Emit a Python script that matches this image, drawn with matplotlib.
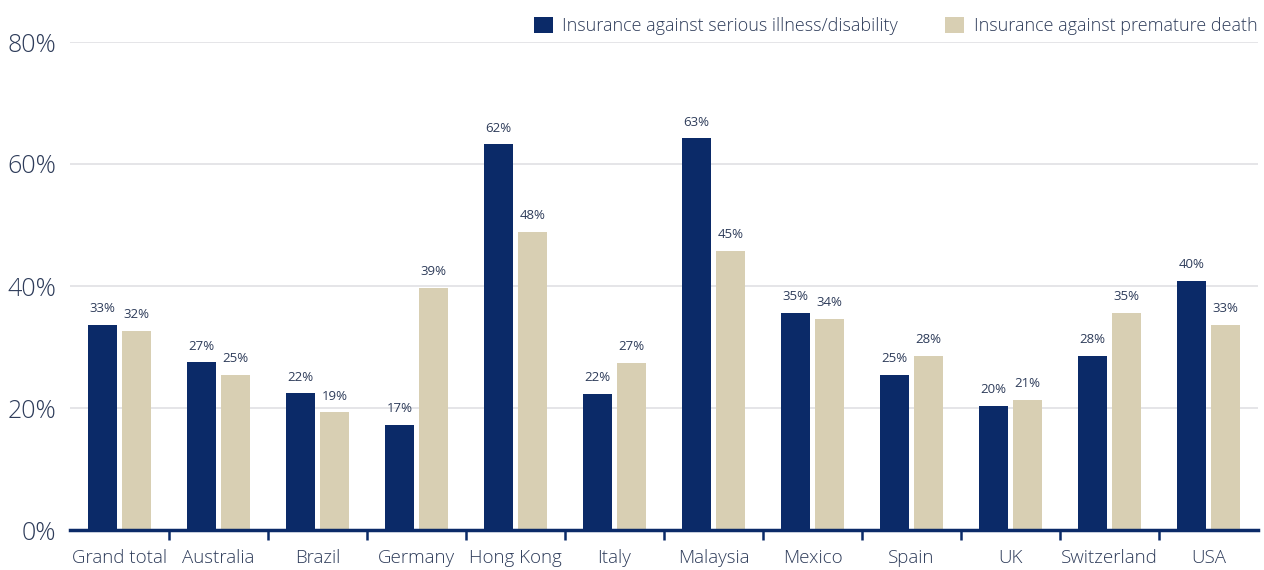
import matplotlib
matplotlib.use("Agg")
import matplotlib.pyplot as plt
from matplotlib.patches import Patch
import numpy as np

categories = ["Grand total", "Australia", "Brazil", "Germany", "Hong Kong", "Italy",
              "Malaysia", "Mexico", "Spain", "UK", "Switzerland", "USA"]
illness = [33.6, 27.5, 22.4, 17.2, 63.2, 22.3, 64.2, 35.6, 25.4, 20.3, 28.5, 40.8]
death = [32.7, 25.4, 19.3, 39.7, 48.9, 27.4, 45.8, 34.6, 28.5, 21.3, 35.6, 33.6]
illness_labels = ["33%", "27%", "22%", "17%", "62%", "22%", "63%", "35%", "25%", "20%", "28%", "40%"]
death_labels = ["32%", "25%", "19%", "39%", "48%", "27%", "45%", "34%", "28%", "21%", "35%", "33%"]
series_names = ["Insurance against serious illness/disability", "Insurance against premature death"]
yticks = [0, 20, 40, 60, 80]

DARK = "#0b2a68"
LIGHT = "#d8cfb3"
TEXT = "#2e3c5a"

plt.rcParams['font.family'] = ['Open Sans', 'DejaVu Sans']
plt.rcParams['font.weight'] = 'light'

fig = plt.figure(figsize=(12.64, 5.70), dpi=100)
ax = fig.add_axes([70/1264, 1-530/570, (1258-70)/1264, (530-42)/570])

x = np.arange(len(categories))
w = 0.29
off = 0.17
ax.bar(x - off, illness, w, color=DARK, zorder=3)
ax.bar(x + off, death, w, color=LIGHT, zorder=3)

for xi, v, t in zip(x, illness, illness_labels):
    ax.annotate(t, (xi - off, v), xytext=(0, 7), textcoords="offset points",
                ha="center", va="bottom", fontsize=9.5, color=TEXT, fontweight="normal")
for xi, v, t in zip(x, death, death_labels):
    ax.annotate(t, (xi + off, v), xytext=(0, 7), textcoords="offset points",
                ha="center", va="bottom", fontsize=9.5, color=TEXT, fontweight="normal")

ax.set_xlim(-0.5, len(categories) - 0.5)
ax.set_ylim(0, 80)
ax.set_yticks(yticks)
ax.set_yticklabels([f"{t}%" for t in yticks], fontsize=18, color=TEXT)
ax.tick_params(axis="y", length=0, pad=10)
ax.set_xticks(x)
ax.set_xticklabels(categories, fontsize=13.5, color=TEXT)
ax.tick_params(axis="x", which="major", length=0, pad=14)
ax.set_xticks(np.arange(0.5, len(categories) - 1, 1), minor=True)
ax.tick_params(axis="x", which="minor", length=7, width=1.8, color=DARK, direction="out")

for s in ["top", "right", "left"]:
    ax.spines[s].set_visible(False)
ax.spines["bottom"].set_color(DARK)
ax.spines["bottom"].set_linewidth(2.5)
ax.spines["bottom"].set_zorder(4)
ax.yaxis.grid(True, color="#e3e3e6", linewidth=1.3, zorder=0)
ax.set_axisbelow(True)

handles = [Patch(facecolor=DARK, edgecolor="none"), Patch(facecolor=LIGHT, edgecolor="none")]
fig.legend(handles, series_names, loc="upper right", bbox_to_anchor=(1.005, 0.993),
           ncol=2, frameon=False, fontsize=13, labelcolor=TEXT,
           handlelength=1.05, handleheight=1.05, handletextpad=0.55, columnspacing=2.6,
           borderaxespad=0.3)

fig.savefig("out.png", dpi=100, facecolor="white")
